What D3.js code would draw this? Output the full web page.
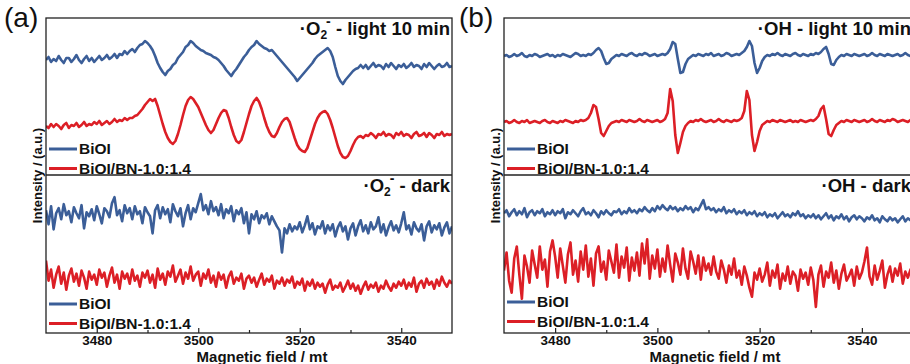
<!DOCTYPE html>
<html>
<head>
<meta charset="utf-8">
<script src="https://cdn.jsdelivr.net/npm/d3@7"></script>
<style>
  body { margin: 0; background: #fff; }
  svg { display: block; font-family: "Liberation Sans", Arial, sans-serif; }
  .tick text { font-weight: bold; font-size: 13.5px; fill: #111; }
</style>
</head>
<body>
<svg id="chart" width="910" height="364"></svg>
<script>
// field grid of the recorded spectra (mT), one sample every 0.5 mT
const fieldStart = 3470;
const fieldStep = 0.5;
const xTicks = [3480, 3500, 3520, 3540];
const xMinorTicks = [3490, 3510, 3530];
const seriesNames = ["BiOI", "BiOI/BN-1.0:1.4"];

// (a) DMPO-·O2- , light 10 min
const aLightBiOI = [
  115,118,113,116,114,119,115,112,117,117,113,116,120,115,112,116,119,114,117,113,
  116,119,115,117,120,116,118,121,117,121,120,124,121,124,126,123,127,130,131,134,
  132,129,125,119,112,107,103,100,104,106,110,112,117,120,123,128,130,134,132,129,
  127,125,124,122,121,120,118,117,115,112,109,105,102,99,103,106,110,114,118,121,
  125,128,130,134,131,129,127,126,124,125,122,119,116,113,110,107,104,101,98,94,
  97,100,103,106,109,112,116,119,121,123,125,127,124,118,108,99,94,91,95,98,
  101,104,106,107,110,107,110,106,109,112,108,110,109,106,111,108,112,109,106,110,
  108,111,107,109,112,108,110,109,106,111,108,112,109,106,109,111,108,109,112,108,
  109
];
const aLightBN = [
  49,47,51,48,51,49,46,50,52,47,50,49,52,48,50,53,49,51,50,53,
  51,54,50,52,54,51,53,56,53,55,54,57,55,57,57,59,60,63,66,70,
  73,76,74,76,69,60,51,43,37,33,31,34,41,50,60,69,75,78,76,72,
  68,62,56,50,45,42,45,51,57,62,65,64,57,48,40,34,32,35,43,52,
  61,69,74,77,73,66,57,49,43,39,38,42,48,53,56,57,53,45,37,30,
  26,24,23,27,35,43,51,57,61,63,64,61,55,47,38,29,22,18,17,19,
  24,30,35,38,39,37,40,39,42,40,37,41,40,43,39,41,40,37,42,40,
  43,39,41,40,37,41,43,39,40,42,38,42,40,37,41,40,43,39,41,40,
  41
];
// (a) dark
const aDarkBiOI = [
  122,108,126,103,119,124,113,128,117,121,110,125,119,114,127,104,120,116,123,112,
  126,118,109,124,121,115,129,135,117,122,111,127,119,124,113,126,118,121,109,125,
  120,116,99,122,127,114,125,118,123,110,128,121,116,124,106,119,127,113,124,120,
  129,138,122,127,118,131,121,125,117,128,114,123,119,126,111,122,118,124,109,120,
  99,118,113,121,109,117,114,119,108,116,111,106,102,80,104,99,108,101,106,103,
  110,100,107,116,103,109,98,106,104,111,99,107,102,108,96,105,110,101,106,93,
  104,109,97,106,112,101,107,99,110,103,106,115,100,108,97,105,111,102,107,100,
  109,120,103,107,98,110,104,101,108,92,106,111,100,107,103,109,97,105,110,99,
  106
];
const aDarkBN = [
  72,52,63,45,58,66,49,60,43,57,64,51,59,47,62,55,44,61,53,58,
  48,63,55,60,46,57,65,50,58,44,61,54,59,49,63,52,57,46,60,55,
  62,50,58,45,64,53,59,48,61,56,67,51,57,63,49,60,54,66,52,58,
  61,47,59,54,63,50,57,46,60,53,58,45,56,61,49,55,52,59,44,54,
  57,50,55,46,53,59,48,54,51,57,44,52,49,55,47,53,50,56,45,51,
  48,54,42,51,47,53,44,50,46,49,40,48,53,43,47,45,50,41,46,52,
  44,49,42,47,39,46,51,43,48,45,50,41,47,44,52,46,42,49,45,51,
  47,53,44,50,46,55,41,49,52,45,54,48,51,44,53,47,56,50,46,52,
  49
];

// (b) DMPO-·OH , light 10 min
const bLightBiOI = [
  119,120,118,119,121,119,120,122,119,118,120,119,121,120,118,119,120,121,119,120,
  118,120,119,121,120,119,118,120,122,121,119,120,119,121,120,122,125,127,124,117,
  111,112,116,118,120,119,121,120,119,121,122,120,119,121,120,122,121,119,120,121,
  119,120,121,120,122,126,133,131,116,102,103,111,116,118,120,119,121,120,119,121,
  120,122,119,120,121,119,120,122,121,119,120,121,120,122,124,128,134,129,112,102,
  107,114,118,120,119,121,120,122,120,119,121,120,119,121,122,120,119,121,120,119,
  121,120,122,121,123,126,128,121,111,110,115,118,120,119,121,120,119,121,120,119,
  120,121,119,120,122,120,119,121,120,119,121,120,119,120,121,119,120,122,120,119,
  120
];
const bLightBN = [
  53,54,52,53,55,53,52,54,53,55,52,53,54,53,52,54,55,53,52,54,
  53,52,54,53,55,54,53,52,54,53,55,54,55,57,62,70,68,56,42,39,
  44,49,52,53,54,53,55,54,53,55,54,53,54,56,54,53,55,54,53,54,
  55,53,54,56,62,86,74,40,22,32,43,49,52,54,53,55,54,56,54,53,
  54,55,53,54,56,54,53,55,54,53,55,54,55,57,64,84,75,40,24,33,
  44,50,52,54,53,55,54,53,55,54,53,54,55,53,54,53,55,54,53,54,
  55,54,56,59,66,69,56,41,39,45,50,52,54,53,55,54,53,55,54,53,
  54,55,53,54,56,54,53,55,54,53,55,54,56,55,53,54,55,54,53,55,
  54
];
// (b) dark
const bDarkBiOI = [
  119,122,116,120,123,117,121,118,124,115,120,122,117,121,119,123,116,120,118,122,
  117,121,119,123,114,120,118,122,119,116,121,124,118,120,117,122,119,115,121,118,
  122,119,117,121,120,123,118,121,119,124,120,122,119,123,121,125,122,120,124,121,
  126,123,127,124,122,126,123,125,121,124,122,126,123,125,120,124,122,127,132,123,
  125,122,124,120,123,121,125,119,122,120,123,118,121,119,122,117,120,118,121,116,
  119,117,120,115,118,116,119,114,117,120,116,118,115,119,117,121,116,118,114,117,
  115,118,114,117,113,116,119,114,117,112,116,114,118,113,116,111,115,117,113,116,
  114,111,115,113,117,112,114,110,116,113,111,115,112,114,110,113,116,111,114,112,
  113
];
const bDarkBN = [
  62,80,52,40,74,86,58,34,77,66,50,82,68,55,86,63,73,46,81,92,
  76,55,84,67,50,78,90,58,72,51,81,63,87,56,74,47,79,86,61,71,
  53,82,71,60,88,55,76,65,85,52,75,62,80,57,89,69,93,54,77,64,
  83,56,74,61,87,68,51,79,70,58,84,64,54,81,71,59,77,53,75,62,
  69,58,76,61,54,72,63,50,67,58,74,55,62,48,66,57,45,36,60,53,
  64,51,58,70,47,62,55,68,44,59,52,66,49,61,57,42,63,54,60,48,
  65,53,26,58,67,46,61,55,70,50,62,44,59,68,52,57,63,47,66,54,
  60,71,85,56,48,67,53,62,72,45,58,66,51,64,57,69,49,61,55,63,
  58
];

const colors = ["#3b5e98", "#dc1f26"];

const svg = d3.select("#chart");

const panels = [
  { id: "a", left: 46, right: 452, labelX: 4, axisLabelX: 262,
    subs: [
      { title: ["·O", "2", "-", " - light 10 min"], data: [aLightBiOI, aLightBN], legendY: 149 },
      { title: ["·O", "2", "-", " - dark"], data: [aDarkBiOI, aDarkBN], legendY: 304 }
    ] },
  { id: "b", left: 504, right: 913, labelX: 459, axisLabelX: 715,
    subs: [
      { title: ["·OH - light 10 min"], data: [bLightBiOI, bLightBN], legendY: 149 },
      { title: ["·OH - dark"], data: [bDarkBiOI, bDarkBN], legendY: 302 }
    ] }
];

const frameTop = 18, frameMid = 175, frameBottom = 333;

panels.forEach(p => {
  const x = d3.scaleLinear().domain([3470, 3550]).range([p.left, p.right]);
  const g = svg.append("g");

  const clipId = "clip-" + p.id;
  svg.append("clipPath").attr("id", clipId)
    .append("rect").attr("x", p.left).attr("y", frameTop).attr("width", p.right - p.left).attr("height", frameBottom - frameTop);

  p.subs.forEach((s, si) => {
    const y0 = si === 0 ? frameMid : frameBottom;
    const y1 = si === 0 ? frameTop : frameMid;
    const y = d3.scaleLinear().domain([0, 157]).range([y0, y1]);

    const line = d3.line()
      .x((d, i) => x(fieldStart + i * fieldStep))
      .y(d => y(d));

    s.data.forEach((arr, k) => {
      g.append("path")
        .attr("clip-path", `url(#${clipId})`)
        .attr("d", line(arr))
        .attr("fill", "none")
        .attr("stroke", colors[k])
        .attr("stroke-width", 2.6)
        .attr("stroke-linejoin", "round");
    });

    // title
    const t = g.append("text")
      .attr("x", p.right - 2)
      .attr("y", y1 + 17)
      .attr("text-anchor", "end")
      .attr("font-weight", "bold")
      .attr("font-size", 18.5)
      .attr("fill", "#111");
    if (s.title.length === 1) {
      t.text(s.title[0]);
    } else {
      t.append("tspan").text(s.title[0]);
      t.append("tspan").attr("font-size", 12).attr("dy", 4).text(s.title[1]);
      t.append("tspan").attr("font-size", 14).attr("dx", -1).attr("dy", -13).text(s.title[2]);
      t.append("tspan").attr("dy", 9).text(s.title[3]);
    }

    // legend
    seriesNames.forEach((name, k) => {
      const ly = s.legendY + k * 19.5;
      g.append("line")
        .attr("x1", p.left + 3).attr("x2", p.left + 31)
        .attr("y1", ly).attr("y2", ly)
        .attr("stroke", colors[k]).attr("stroke-width", 3);
      g.append("text")
        .attr("x", p.left + 33).attr("y", ly + 5)
        .attr("font-weight", "bold").attr("font-size", 15.5).attr("fill", "#111")
        .text(name);
    });
  });

  // frame
  g.append("rect")
    .attr("x", p.left).attr("y", frameTop)
    .attr("width", p.right - p.left).attr("height", frameBottom - frameTop)
    .attr("fill", "none").attr("stroke", "#222").attr("stroke-width", 1.3);
  g.append("line")
    .attr("x1", p.left).attr("x2", p.right).attr("y1", frameMid).attr("y2", frameMid)
    .attr("stroke", "#222").attr("stroke-width", 1.3);

  // x axis, ticks pointing inward
  const ax = g.append("g").attr("transform", `translate(0,${frameBottom})`)
    .call(d3.axisBottom(x).tickValues(xTicks).tickSizeInner(-5).tickSizeOuter(0).tickPadding(2).tickFormat(d3.format("d")));
  ax.select(".domain").remove();
  ax.selectAll(".tick line").attr("stroke", "#222").attr("stroke-width", 1.2);
  const axm = g.append("g").attr("transform", `translate(0,${frameBottom})`)
    .call(d3.axisBottom(x).tickValues(xMinorTicks).tickSizeInner(-3).tickSizeOuter(0).tickFormat(""));
  axm.select(".domain").remove();
  axm.selectAll(".tick line").attr("stroke", "#222").attr("stroke-width", 1.2);

  g.append("text")
    .attr("x", p.axisLabelX).attr("y", 361.5)
    .attr("text-anchor", "middle").attr("font-weight", "bold").attr("font-size", 15).attr("fill", "#111")
    .text("Magnetic field / mt");

  g.append("text")
    .attr("transform", `translate(${p.left - 4},${(frameTop + frameBottom) / 2}) rotate(-90)`)
    .attr("text-anchor", "middle").attr("font-weight", "bold").attr("font-size", 13).attr("fill", "#111")
    .text("Intensity / (a.u.)");

  g.append("text")
    .attr("x", p.labelX).attr("y", 27)
    .attr("font-size", 28).attr("fill", "#111")
    .text(`(${p.id})`);
});
</script>
</body>
</html>
